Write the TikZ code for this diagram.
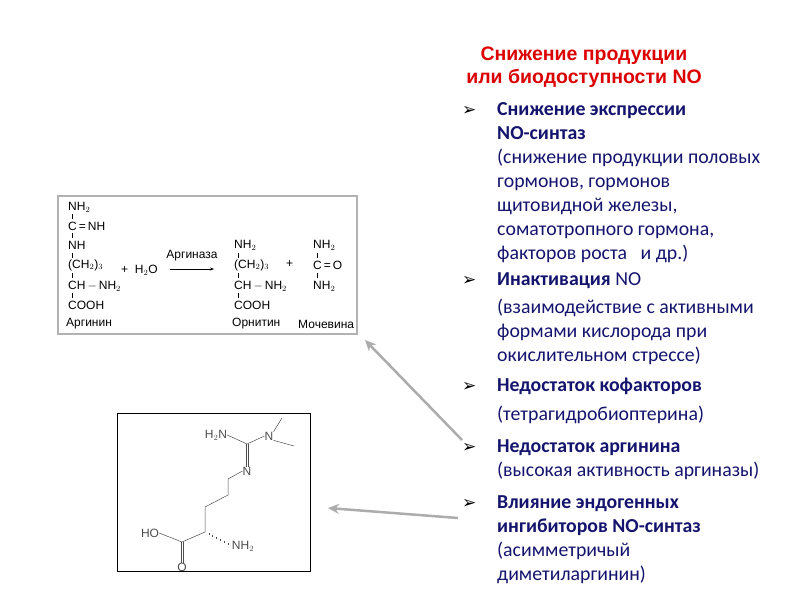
\documentclass[tikz,border=0pt]{standalone}
\usepackage{fontspec}
\usetikzlibrary{arrows.meta,calc}
\setmainfont{Carlito}
\newfontfamily\arial{Liberation Sans}
\newfontfamily\dejavu{DejaVu Sans}
\begin{document}
\begin{tikzpicture}[x=1pt,y=-1pt,
  tx/.style={anchor=base west,inner sep=0,text=navy,font=\fontsize{19.8}{22}\selectfont},
  bx/.style={tx,font=\fontsize{19.8}{22}\selectfont\bfseries},
  bul/.style={anchor=base west,inner sep=0,text=black,font=\dejavu\fontsize{17}{18}\selectfont},
  ch/.style={anchor=west,inner sep=0,font=\arial\fontsize{12}{14}\selectfont},
  bnd/.style={line width=0.7pt},
  gar/.style={draw=gray!65,line width=2.5pt,-{Stealth[length=11pt,width=10pt]}},
  mol/.style={line width=0.5pt,draw=black!70},
  ml/.style={inner sep=0,font=\arial\fontsize{12}{13}\selectfont,text=black!70}]
\definecolor{navy}{RGB}{20,20,110}
\definecolor{tred}{RGB}{220,0,0}
\useasboundingbox (0,0) rectangle (800,600);
% title
\node[text=tred,font=\arial\bfseries\fontsize{19.5}{23}\selectfont,align=center,inner sep=0] (title) at (584,67) {Снижение продукции\\или биодоступности NO};
% bullets
\foreach \y/\n in {115/b1,285/b2,391/b3,452/b4,508/b5}
  \node[bul] (\n) at (462,\y) {➢};
\node[bx] (t1) at (497,115) {Снижение экспрессии};
\node[bx] (t2) at (497,139) {NO-синтаз};
\node[tx] (t3) at (497,163) {(снижение продукции половых};
\node[tx] (t4) at (497,187) {гормонов, гормонов};
\node[tx] (t5) at (497,211) {щитовидной железы,};
\node[tx] (t6) at (497,235) {соматотропного гормона,};
\node[tx] (t7) at (497,259) {факторов роста \ \ и др.)};
\node[tx] (u1) at (497,285) {\textbf{Инактивация} NO};
\node[tx] (u2) at (497,313) {(взаимодействие с активными};
\node[tx] (u3) at (497,337) {формами кислорода при};
\node[tx] (u4) at (497,361) {окислительном стрессе)};
\node[bx] (v1) at (497,391) {Недостаток кофакторов};
\node[tx] (v2) at (497,420) {(тетрагидробиоптерина)};
\node[bx] (w1) at (497,452) {Недостаток аргинина};
\node[tx] (w2) at (497,476) {(высокая активность аргиназы)};
\node[bx] (z1) at (497,508) {Влияние эндогенных};
\node[bx] (z2) at (497,532) {ингибиторов NO-синтаз};
\node[tx] (z3) at (497,556) {(асимметричый};
\node[tx] (z4) at (497,580) {диметиларгинин)};
% reaction box
\node[draw=gray!60,line width=2.5pt,minimum width=299pt,minimum height=138pt,inner sep=0] (rbox) at (207.5,265) {};
\foreach \y/\t/\n in {207/NH$_2$/a1,226/C\,=\,NH/a2,245/NH/a3,265/(CH$_2$)$_3$/a4,286/CH\,$-$\,NH$_2$/a5,305/COOH/a6}
  \node[ch] (\n) at (68,\y) {\t};
\foreach \y in {216.5,235.5,255,275.5,295.5} \draw[bnd] (72,\y-2.5) -- (72,\y+2.5);
\node[ch] (arg) at (66,324) {Аргинин};
\node[ch] (h2o) at (121,270) {+\ \ H$_2$O};
\coordinate (ra) at (170,269);
\coordinate (rb) at (214,269);
\draw[line width=0.7pt,-{Stealth[length=4pt]}] (ra) -- (rb);
\node[ch,anchor=center] (enz) at (192,256) {Аргиназа};
\foreach \y/\t/\n in {245/NH$_2$/o1,265/(CH$_2$)$_3$/o2,286/CH\,$-$\,NH$_2$/o3,305/COOH/o4}
  \node[ch] (\n) at (234,\y) {\t};
\foreach \y in {255,275.5,295.5} \draw[bnd] (238,\y-2.5) -- (238,\y+2.5);
\node[ch] (orn) at (232,324) {Орнитин};
\node[ch] (plus) at (286,264) {+};
\foreach \y/\t/\n in {245/NH$_2$/m1,265/C\,=\,O/m2,286/NH$_2$/m3}
  \node[ch] (\n) at (313,\y) {\t};
\foreach \y in {255,275.5} \draw[bnd] (317,\y-2.5) -- (317,\y+2.5);
\node[ch] (ure) at (298,324) {Мочевина};
% molecule box
\node[draw=black,line width=0.8pt,minimum width=193pt,minimum height=158pt,inner sep=0] (mbox) at (213.5,492) {};
\node[ml] (h2n) at (216,435) {H$_2$N};
\node[ml] (nme) at (269,436) {N};
\node[ml] (nim) at (247,471) {N};
\coordinate (cg) at (247,444);
\coordinate (me1) at (282,418);
\coordinate (me2) at (294,446);
\coordinate (c1) at (228,479);
\coordinate (c2) at (228,495);
\coordinate (c3) at (205,507);
\coordinate (ca) at (205,532);
\coordinate (cc) at (182,542);
\node[ml] (ho) at (150,533) {HO};
\node[ml] (nh2) at (243,546) {NH$_2$};
\node[ml] (oo) at (182,567) {O};
\draw[mol] (h2n.east) -- (cg) -- (nme.west);
\draw[mol] (nme.north east) -- (me1);
\draw[mol] (nme.south east) -- (me2);
\draw[mol] ([xshift=-1.2pt]cg) -- ([xshift=-1.2pt]nim.north);
\draw[mol] ([xshift=1.2pt]cg) -- ([xshift=1.2pt]nim.north);
\draw[mol] (nim.west) -- (c1) -- (c2) -- (c3) -- (ca) -- (cc) -- (ho.east);
\draw[mol] ([xshift=-1.2pt]cc) -- ([xshift=-1.2pt]oo.north);
\draw[mol] ([xshift=1.2pt]cc) -- ([xshift=1.2pt]oo.north);
\foreach \i in {1,...,6} \draw[mol] ($(ca)!\i/7!(nh2.west)+(0,-1.2)$) -- ($(ca)!\i/7!(nh2.west)+(0,1.2)$);
% arrows
\coordinate (s1) at (462,440);
\coordinate (e1) at (365,340);
\coordinate (s2) at (458,518);
\coordinate (e2) at (328,508);
\draw[gar] (s1) -- (e1);
\draw[gar] (s2) -- (e2);
\end{tikzpicture}
\end{document}
